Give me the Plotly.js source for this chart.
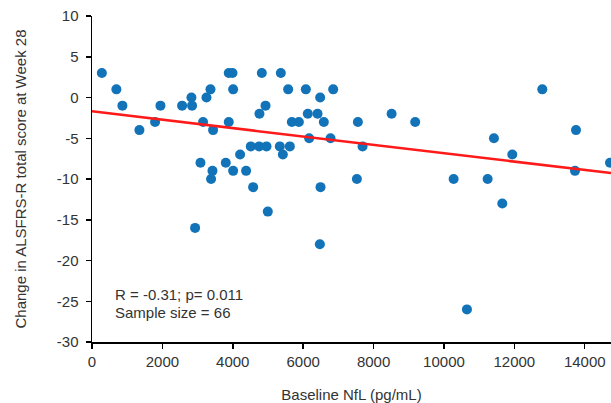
<!DOCTYPE html>
<html>
<head>
<meta charset="utf-8">
<script src="https://cdn.plot.ly/plotly-3.0.1.min.js"></script>
<style>html,body{margin:0;padding:0;background:#fff;}#chart{width:611px;height:403px;}</style>
</head>
<body>
<div id="chart"></div>
<script>
const nflX = [280, 693, 864, 1347, 1792, 1945, 2560, 2825, 2843, 3156, 3252, 3366, 3440, 3082, 3423, 3383, 3801,
  3886, 3991, 4010, 3886, 4010, 4208, 4378, 4512, 4578, 4748, 4758, 4825, 4930, 4958, 5336, 5365, 5422, 5573,
  5621, 5678, 5877, 6076, 6132, 6170, 6408, 6483, 6493, 6587, 6777, 6853,
  4995, 2929, 6474,
  7554, 7687, 7526, 8512, 9183, 10275, 11241, 11420, 11941, 11657, 12794, 13752, 13723, 14718, 10653];
const scoreChange = [3, 1, -1, -4, -3, -1, -1, 0, -1, -3, 0, 1, -4, -8, -9, -10, -8,
  3, 3, 1, -3, -9, -7, -9, -6, -11, -6, -2, 3, -1, -6, -6, 3, -7, 1,
  -6, -3, -3, 1, -2, -5, -2, 0, -11, -3, -5, 1,
  -14, -16, -18,
  -3, -6, -10, -2, -3, -10, -10, -5, -7, -13, 1, -4, -9, -8, -26];
const fitX = [0, 14746];
const fitY = [-1.7, -9.28];
const xTicks = [0, 2000, 4000, 6000, 8000, 10000, 12000, 14000];
const yTicks = [-30, -25, -20, -15, -10, -5, 0, 5, 10];
const statText = ["R = -0.31; p= 0.011", "Sample size = 66"];

const font = {family: "Liberation Sans, Arial, sans-serif", size: 15, color: "#333333"};
const data = [
  {x: nflX, y: scoreChange, type: "scatter", mode: "markers",
   marker: {color: "#1273B8", size: 10}, cliponaxis: false, hoverinfo: "none"},
  {x: fitX, y: fitY, type: "scatter", mode: "lines",
   line: {color: "#FF1A1A", width: 2.5}, hoverinfo: "none"}
];
const layout = {
  width: 611, height: 403,
  margin: {l: 92, r: 0, t: 16, b: 61},
  paper_bgcolor: "#fff", plot_bgcolor: "#fff",
  showlegend: false, font: font,
  xaxis: {range: [0, 14746], tickvals: xTicks, ticktext: xTicks.map(String),
    showgrid: false, zeroline: false, showline: true, linecolor: "#000", linewidth: 1.5,
    ticks: "outside", ticklen: 5, tickcolor: "#000", tickwidth: 1.5,
    title: {text: "Baseline NfL (pg/mL)", font: font, standoff: 26}},
  yaxis: {range: [-30, 10], tickvals: yTicks, ticktext: yTicks.map(String),
    showgrid: false, zeroline: false, showline: true, linecolor: "#000", linewidth: 1.5,
    ticks: "outside", ticklen: 5, tickcolor: "#000", tickwidth: 1.5, ticklabelstandoff: 4,
    title: {text: "Change in ALSFRS-R total score at Week 28", font: font, standoff: 26}},
  annotations: [
    {xref: "paper", yref: "paper", x: 0.041, y: 0.145, xanchor: "left", yanchor: "middle",
     text: statText[0], showarrow: false, font: font},
    {xref: "paper", yref: "paper", x: 0.041, y: 0.09, xanchor: "left", yanchor: "middle",
     text: statText[1], showarrow: false, font: font}
  ]
};
Plotly.newPlot("chart", data, layout, {staticPlot: true, displayModeBar: false});
</script>
</body>
</html>
